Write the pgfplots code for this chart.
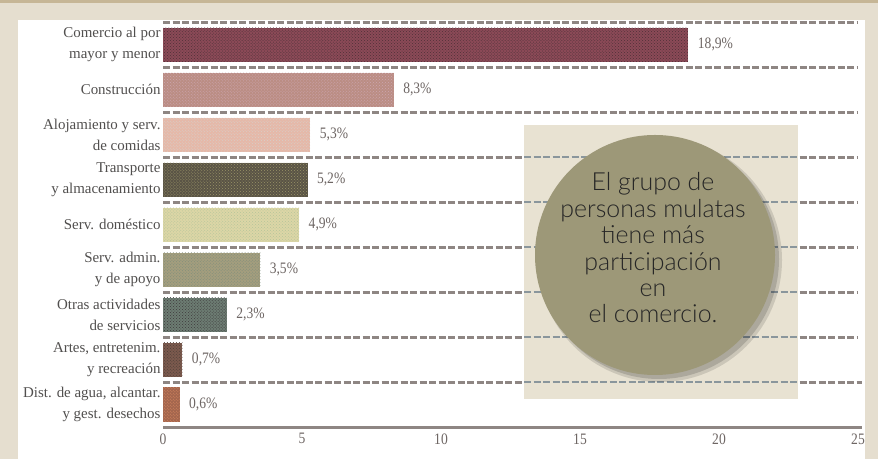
\documentclass[border=0pt]{standalone}
\usepackage{pgfplots}
\pgfplotsset{compat=1.18}
\usepackage{fontspec}
\usetikzlibrary{patterns}
\setmainfont{Liberation Serif}
\newfontfamily\condfont[FakeStretch=0.85]{Liberation Serif}
\newfontfamily\callfont{Lato Light}
\definecolor{bgbeige}{HTML}{E5DECF}
\definecolor{topband}{HTML}{C6B696}
\definecolor{gridgray}{HTML}{8E8683}
\definecolor{boxgrid}{HTML}{8A969C}
\definecolor{labgray}{HTML}{3E3B3A}
\definecolor{valgray}{HTML}{6E6664}
\definecolor{boxbeige}{HTML}{E8E2D2}
\definecolor{circ}{HTML}{9D9878}
\definecolor{cA}{HTML}{8B4A57}\definecolor{dA}{HTML}{4E3038}
\definecolor{cB}{HTML}{BB8D84}\definecolor{dB}{HTML}{CDA7B0}
\definecolor{cC}{HTML}{E6B8A8}\definecolor{dC}{HTML}{D6D0CA}
\definecolor{cD}{HTML}{5A5446}\definecolor{dD}{HTML}{9A9466}
\definecolor{cE}{HTML}{DCD6A6}\definecolor{dE}{HTML}{B4C49A}
\definecolor{cF}{HTML}{A49E7E}\definecolor{dF}{HTML}{7C8C7A}
\definecolor{cG}{HTML}{6C7C72}\definecolor{dG}{HTML}{3E3A3C}
\definecolor{cH}{HTML}{7C5A4E}\definecolor{dH}{HTML}{4A3E36}
\definecolor{cI}{HTML}{A4664E}\definecolor{dI}{HTML}{D88860}
\pgfplotsset{
  mybar/.style n args={2}{xbar, bar width=34bp, bar shift=0pt, draw=none,
    fill=#1, postaction={pattern=crosshatch dots, pattern color=#2},
    point meta=explicit symbolic, nodes near coords,
    every node near coord/.append style={anchor=west, xshift=6bp,
      font=\condfont\fontsize{16}{16}\selectfont, text=valgray}},
}
\begin{document}
\begin{tikzpicture}
\begin{scope}[x=1bp,y=1bp]
\fill[bgbeige] (0,0) rectangle (878,459);
\fill[topband] (0,456) rectangle (878,459);
\fill[white] (18,0) rectangle (865,439);
\useasboundingbox (0,0) rectangle (878,459);
\end{scope}
\begin{axis}[
  at={(163bp,32bp)}, anchor=south west,
  scale only axis, width=695bp, height=405bp,
  xmin=0, xmax=25, ymin=0.5, ymax=9.5, y dir=reverse,
  axis line style={draw=none},
  xtick={0,5,10,15,20,25},
  ytick={1,2,3,4,5,6,7,8,9},
  yticklabels={{Comercio al por\\mayor y menor},{Construcción},{Alojamiento y serv.\\de comidas},{Transporte\\y almacenamiento},{Serv. doméstico},{Serv. admin.\\y de apoyo},{Otras actividades\\de servicios},{Artes, entretenim.\\y recreación},{Dist. de agua, alcantar.\\y gest. desechos}},
  major tick length=0pt, minor tick length=0pt,
  minor ytick={0.5,1.5,2.5,3.5,4.5,5.5,6.5,7.5,8.5},
  yminorgrids=true,
  minor grid style={gridgray, line width=3bp, dash pattern=on 7bp off 2.5bp, shorten >=-4bp},
  extra y ticks={9.5}, extra y tick labels={},
  extra y tick style={ymajorgrids=true, major grid style={gridgray, line width=3bp, solid, shorten >=-4bp}},
  yticklabel style={align=right, font=\fontsize{15}{21}\selectfont, text=labgray!90!white, xshift=1bp},
  xticklabel style={font=\condfont\fontsize{16}{16}\selectfont, text=valgray, yshift=-3bp},
  /pgf/number format/assume math mode=true,
  clip=false,
]
\addplot[mybar={cA}{dA}] coordinates {(18.9,1) [18,9\%]};
\addplot[mybar={cB}{dB}] coordinates {(8.3,2) [8,3\%]};
\addplot[mybar={cC}{dC}] coordinates {(5.3,3) [5,3\%]};
\addplot[mybar={cD}{dD}] coordinates {(5.2,4) [5,2\%]};
\addplot[mybar={cE}{dE}] coordinates {(4.9,5) [4,9\%]};
\addplot[mybar={cF}{dF}] coordinates {(3.5,6) [3,5\%]};
\addplot[mybar={cG}{dG}] coordinates {(2.3,7) [2,3\%]};
\addplot[mybar={cH}{dH}] coordinates {(0.7,8) [0,7\%]};
\addplot[mybar={cI}{dI}] coordinates {(0.6,9) [0,6\%]};
\end{axis}
\begin{scope}[x=1bp,y=1bp]
\fill[boxbeige] (524,60) rectangle (798,334);
\foreach \yy in {302,257,212,167,122,77}
  \draw[boxgrid, line width=2.6bp, dash pattern=on 7bp off 2.5bp] (524,\yy) -- (798,\yy);
\fill[black, fill opacity=0.12] (660,199) circle (122);
\fill[black, fill opacity=0.15] (659,200) circle (120);
\fill[circ] (655,204) circle (120);
\node[align=center, text=black!85, font=\callfont\fontsize{25}{26.5}\selectfont] at (653,211)
  {El grupo de\\personas mulatas\\tiene más\\participación\\en\\el comercio.};
\end{scope}
\end{tikzpicture}
\end{document}
